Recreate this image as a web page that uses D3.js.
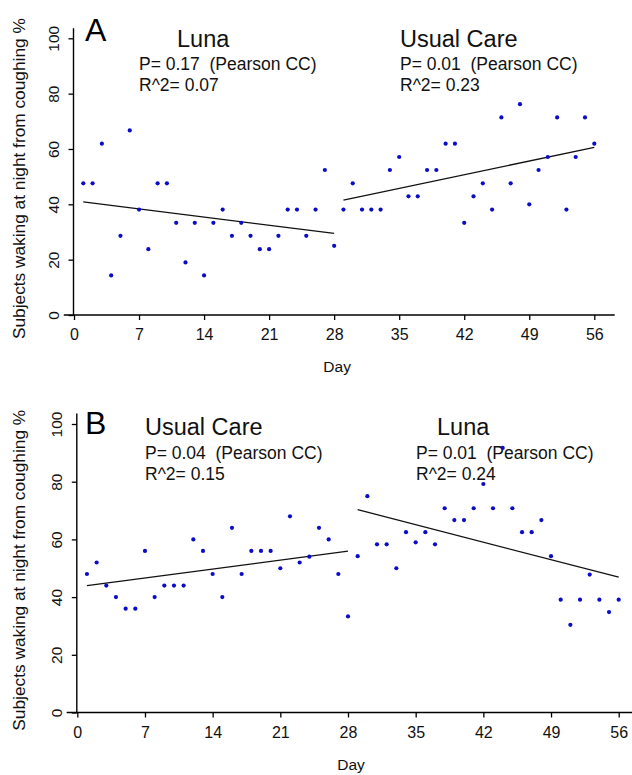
<!DOCTYPE html>
<html>
<head>
<meta charset="utf-8">
<script src="https://cdnjs.cloudflare.com/ajax/libs/d3/7.8.5/d3.min.js"></script>
<style>
  body { margin: 0; background: #fff; }
  svg { display: block; font-family: "Liberation Sans", Arial, sans-serif; }
</style>
</head>
<body>
<svg id="chart" width="632" height="775"></svg>
<script>
// ---- data ----
// days for each half of the 56 day study
var daysFirst  = [1,2,3,4,5,6,7,8,9,10,11,12,13,14,15,16,17,18,19,20,21,22,23,24,25,26,27,28];
var daysSecond = [29,30,31,32,33,34,35,36,37,38,39,40,41,42,43,44,45,46,47,48,49,50,51,52,53,54,55,56];

// panel A : Luna first, then usual care
var lunaA = [47.6,47.6,61.9,14.3,28.6,66.7,38.1,23.8,47.6,47.6,33.3,19.0,33.3,14.3,
             33.3,38.1,28.6,33.3,28.6,23.8,23.8,28.6,38.1,38.1,28.6,38.1,52.4,25.0];
var usualA = [38.1,47.6,38.1,38.1,38.1,52.4,57.1,42.9,42.9,52.4,52.4,61.9,61.9,33.3,
              42.9,47.6,38.1,71.4,47.6,76.2,40.0,52.4,57.1,71.4,38.1,57.1,71.4,61.9];

// panel B : usual care first, then Luna
var usualB = [48,52,44,40,36,36,56,40,44,44,44,60,56,48,
              40,64,48,56,56,56,50,68,52,54,64,60,48,33.3];
var lunaB = [54.2,75.0,58.3,58.3,50.0,62.5,59.0,62.5,58.3,70.8,66.7,66.7,70.8,79.2,
             70.8,91.7,70.8,62.5,62.5,66.7,54.2,39.1,30.4,39.1,47.8,39.1,34.8,39.1];

// fitted lines (start / end values)
var fitLunaA  = [[1,40.9],[28,29.5]];
var fitUsualA = [[29,41.5],[56,60.6]];
var fitUsualB = [[1,44.0],[28,55.9]];
var fitLunaB  = [[29,70.3],[56,46.9]];

// labels
var panelLetters = ["A","B"];
var groupNamesA = ["Luna","Usual Care"];
var groupNamesB = ["Usual Care","Luna"];
var pValuesA = ["0.17","0.01"];
var pValuesB = ["0.04","0.01"];
var r2A = ["0.07","0.23"];
var r2B = ["0.15","0.24"];
var xTicks = [0,7,14,21,28,35,42,49,56];
var yTicks = [0,20,40,60,80,100];
var yTitle = "Subjects waking at night from coughing %";
var xTitle = "Day";

var svg = d3.select("#chart");

// one panel
function drawPanel(p)
{
    var g = svg.append("g").attr("class","panel");

    var x = d3.scaleLinear().domain([0,56]).range([p.x0, p.x56]);
    var y = d3.scaleLinear().domain([0,100]).range([p.y0, p.y100]);

    //axis lines drawn by hand so they run a bit past the ticks
    g.append("line")
        .attr("x1", x(-1.1)).attr("x2", x(58.2))
        .attr("y1", y(0)).attr("y2", y(0))
        .attr("stroke","#000").attr("stroke-width",1.4);
    g.append("line")
        .attr("x1", x(0)-0.5).attr("x2", x(0)-0.5)
        .attr("y1", y(0)).attr("y2", y(103.6))
        .attr("stroke","#000").attr("stroke-width",1.4);

    var xAxis = g.append("g")
        .attr("transform","translate(0," + y(0) + ")")
        .call(d3.axisBottom(x).tickValues(xTicks).tickSize(5).tickPadding(9));
    xAxis.select(".domain").remove();
    xAxis.selectAll("line").attr("stroke-width",1.3);
    xAxis.selectAll("text")
        .attr("font-size","16px").attr("fill","#111")
        .attr("font-family","Liberation Sans, Arial, sans-serif");

    var yAxis = g.append("g")
        .attr("transform","translate(" + (x(0)-0.5) + ",0)")
        .call(d3.axisLeft(y).tickValues(yTicks).tickSize(5));
    yAxis.select(".domain").remove();
    yAxis.selectAll("line").attr("stroke-width",1.3);
    yAxis.selectAll("text")
        .attr("transform","rotate(-90)")
        .attr("x",0).attr("y",-14.5).attr("dy",0)
        .attr("text-anchor","middle")
        .attr("font-size","15.5px").attr("fill","#111")
        .attr("font-family","Liberation Sans, Arial, sans-serif");

    // titles
    g.append("text")
        .attr("transform","translate(25," + ((y(0)+y(100))/2 + 2) + ") rotate(-90)")
        .attr("text-anchor","middle")
        .attr("font-size","17.3px").attr("fill","#111")
        .text(yTitle);
    g.append("text")
        .attr("x", (x(0)+x(56))/2 + 3).attr("y", y(0)+57)
        .attr("text-anchor","middle")
        .attr("font-size","15.5px").attr("fill","#111")
        .text(xTitle);

    // letter + annotation
    g.append("text")
        .attr("x", p.letterX).attr("y", p.letterY)
        .attr("font-size","32px").attr("fill","#000")
        .text(p.letter);

    p.notes.forEach(function (n, i) {
        g.append("text")
            .attr("x", n.titleX).attr("y", p.titleY)
            .attr("font-size","23.5px").attr("fill","#111")
            .text(p.names[i]);
        g.append("text")
            .attr("x", n.x).attr("y", p.titleY+23.5)
            .attr("font-size","17.5px").attr("fill","#111")
            .attr("xml:space","preserve")
            .text("P= " + p.pvals[i] + "  (Pearson CC)");
        g.append("text")
            .attr("x", n.x).attr("y", p.titleY+44.5)
            .attr("font-size","17.5px").attr("fill","#111")
            .text("R^2= " + p.r2[i]);
    });

    // regression lines
    var line = d3.line().x(function (d) {return x(d[0])}).y(function (d) {return y(d[1])});
    p.fits.forEach(function (f) {
        g.append("path").attr("d", line(f))
            .attr("fill","none").attr("stroke","#111").attr("stroke-width",1.3);
    });

    // dots (on top, one of them sits in the text)
    p.series.forEach(function (s) {
        g.selectAll(null)
            .data(s.vals)
            .enter()
            .append("circle")
            .attr("cx", function (d, i) {return x(s.days[i])})
            .attr("cy", function (d) {return y(d)})
            .attr("r", 2.1)
            .attr("fill","#0c0cc8");
    });
}

drawPanel({
    x0: 74, x56: 594.3, y0: 315, y100: 38.3,
    letter: panelLetters[0], letterX: 85, letterY: 41,
    titleY: 46.5,
    names: groupNamesA, pvals: pValuesA, r2: r2A,
    notes: [{titleX: 177, x: 139}, {titleX: 400, x: 400}],
    series: [{days: daysFirst, vals: lunaA}, {days: daysSecond, vals: usualA}],
    fits: [fitLunaA, fitUsualA]
});

drawPanel({
    x0: 77.3, x56: 618.7, y0: 712.5, y100: 424,
    letter: panelLetters[1], letterX: 85, letterY: 433.5,
    titleY: 435,
    names: groupNamesB, pvals: pValuesB, r2: r2B,
    notes: [{titleX: 145, x: 145}, {titleX: 437, x: 416}],
    series: [{days: daysFirst, vals: usualB}, {days: daysSecond, vals: lunaB}],
    fits: [fitUsualB, fitLunaB]
});
</script>
</body>
</html>
